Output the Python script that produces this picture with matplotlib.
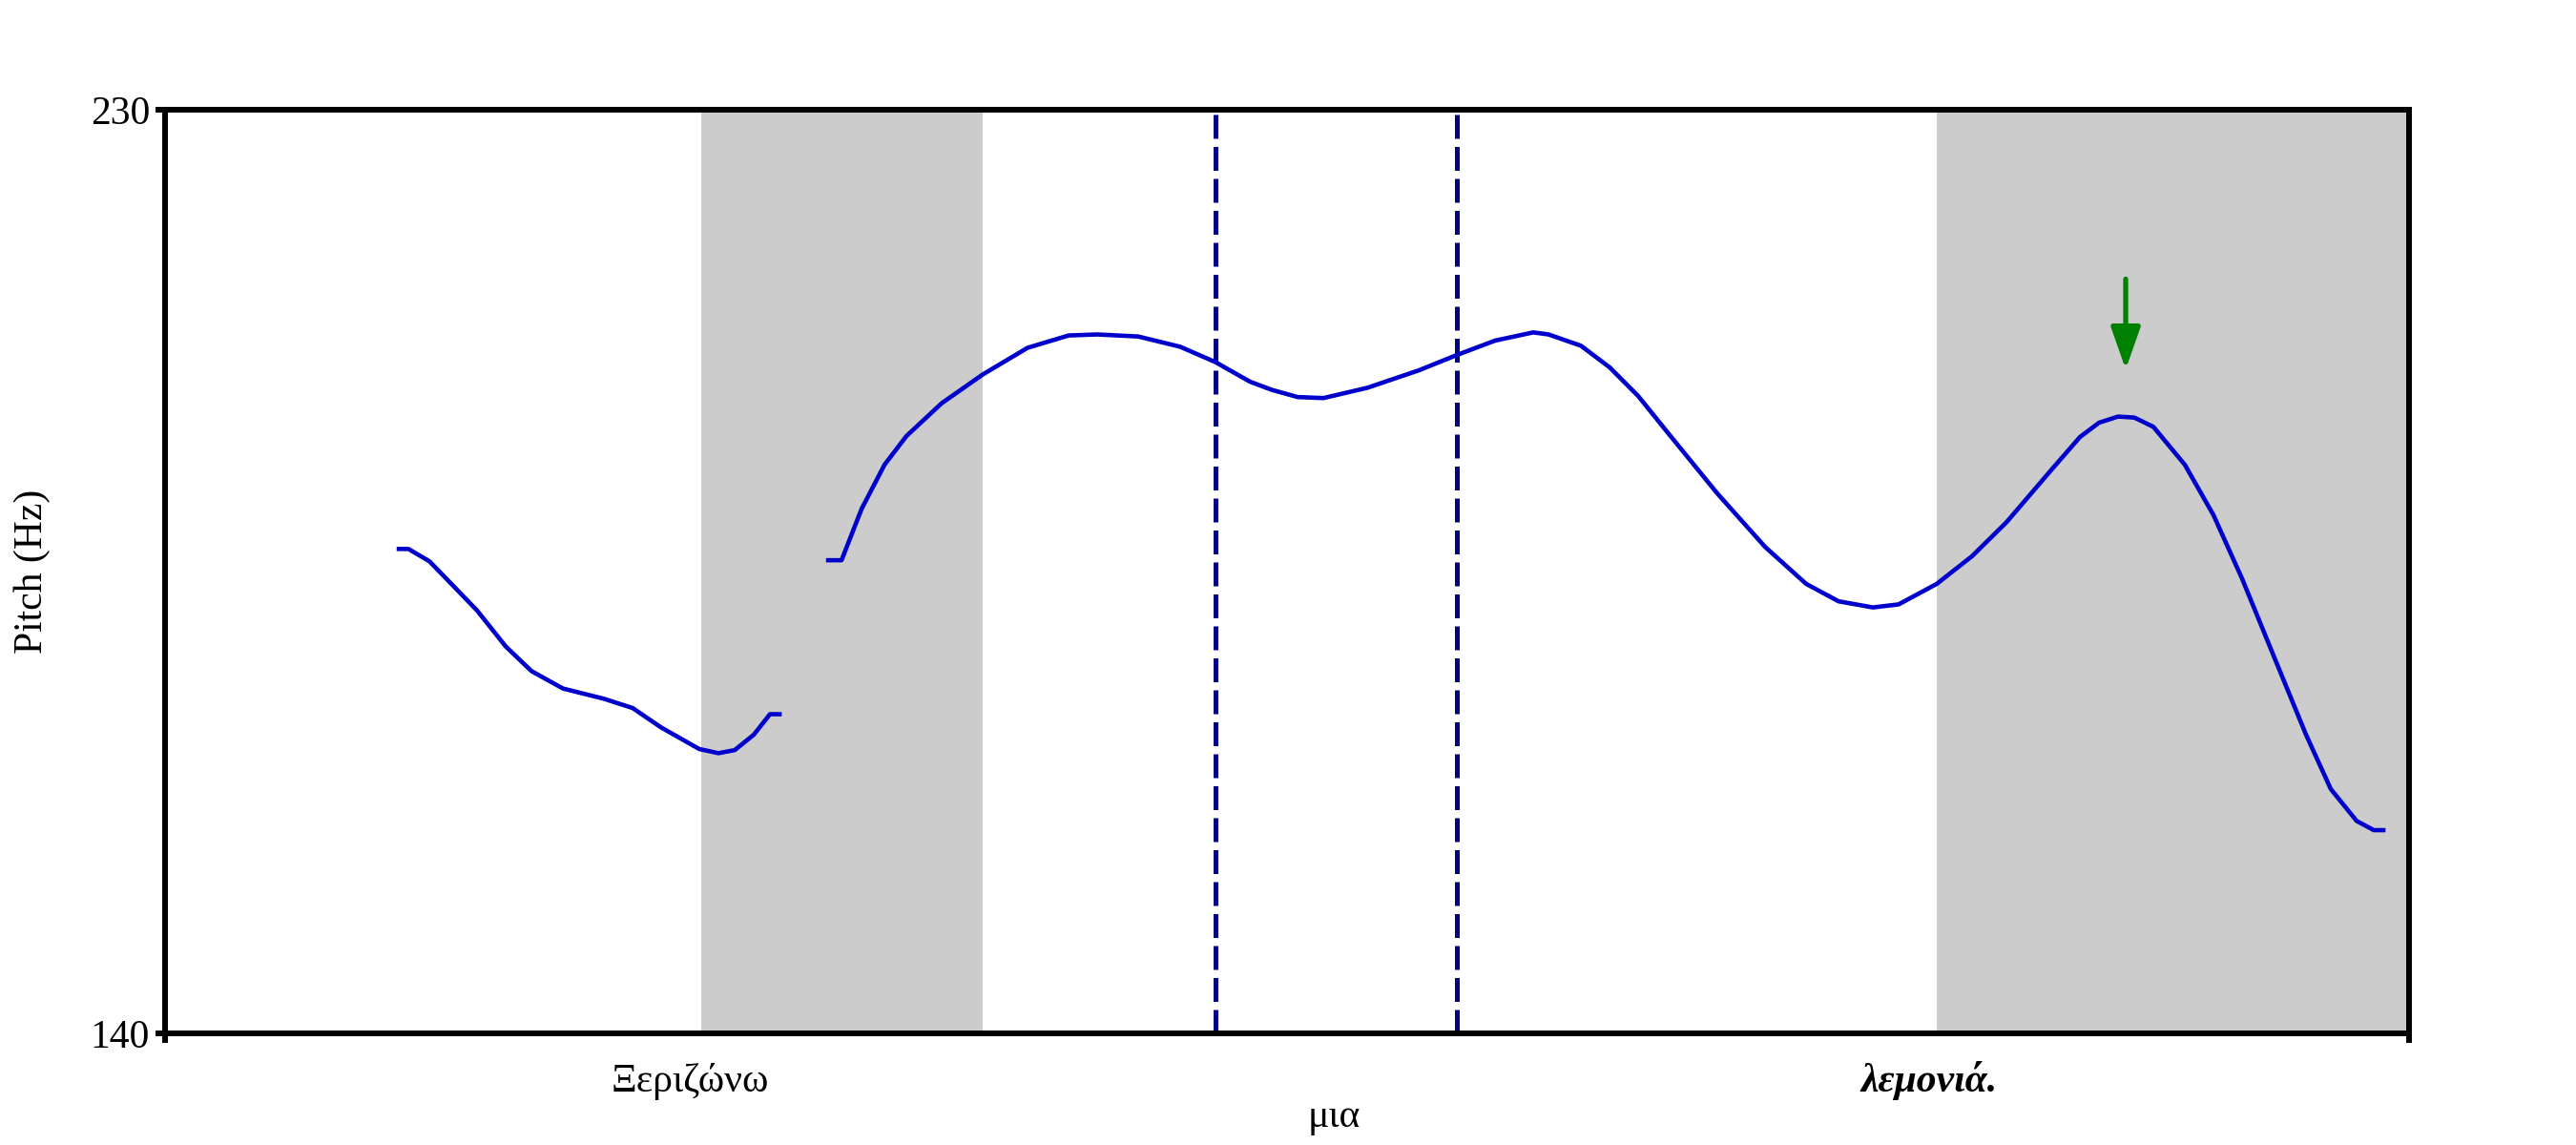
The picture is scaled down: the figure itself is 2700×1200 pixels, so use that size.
import matplotlib.pyplot as plt
import matplotlib.transforms as mtransforms

plt.rcParams['font.family'] = ['Liberation Serif', 'DejaVu Serif']

# time (s) and pitch (Hz)
t1 = [0.245, 0.255, 0.277, 0.300, 0.327, 0.357, 0.384, 0.417, 0.460, 0.490,
      0.520, 0.560, 0.580, 0.597, 0.617, 0.634, 0.644]
f1 = [187.2, 187.2, 186.0, 183.8, 181.2, 177.7, 175.3, 173.6, 172.6, 171.7,
      169.8, 167.7, 167.3, 167.6, 169.1, 171.1, 171.1]

t2 = [0.695, 0.709, 0.730, 0.754, 0.777, 0.814, 0.857, 0.904, 0.947, 0.977,
      1.020, 1.064, 1.101, 1.137, 1.160, 1.187, 1.214, 1.260, 1.314, 1.354,
      1.394, 1.434, 1.450, 1.484, 1.514, 1.544, 1.577, 1.627, 1.677, 1.720,
      1.754, 1.790, 1.817, 1.857, 1.894, 1.930, 1.977, 2.007, 2.027, 2.047,
      2.064, 2.084, 2.117, 2.147, 2.177, 2.210, 2.244, 2.270, 2.297, 2.315,
      2.325]
f2 = [186.1, 186.1, 191.1, 195.4, 198.2, 201.4, 204.2, 206.8, 208.0, 208.1,
      207.9, 206.9, 205.4, 203.5, 202.7, 202.0, 201.9, 202.9, 204.6, 206.1,
      207.5, 208.3, 208.1, 207.0, 204.9, 202.1, 198.3, 192.6, 187.4, 183.8,
      182.1, 181.5, 181.8, 183.8, 186.5, 189.8, 194.9, 198.1, 199.5, 200.1,
      200.0, 199.1, 195.4, 190.5, 184.3, 176.8, 169.1, 163.8, 160.7, 159.8,
      159.8]

t_end = 2.352
y_min, y_max = 140, 230

bands = [(0.562, 0.857), (1.857, 2.352)]
boundaries = [1.101, 1.354]

words = ['Ξεριζώνω', 'μια', 'λεμονιά.']
word_t = [0.550, 1.225, 1.849]

arrow_t = 2.055
arrow_from, arrow_to = 213.5, 204.7

fig = plt.figure(figsize=(27, 12), dpi=100)
ax = fig.add_axes([0.0641, 0.0975, 0.8711, 0.8067])

for a, b in bands:
    ax.axvspan(a, b, color='#cccccc', lw=0, zorder=0)

for b in boundaries:
    ln = ax.axvline(b, color='#000080', lw=3.6, zorder=2)
    ln.set_dashes([5, 1.7])

ax.plot(t1, f1, color='#0000cc', lw=3.3, zorder=3, solid_joinstyle='round')
ax.plot(t2, f2, color='#0000cc', lw=3.3, zorder=3, solid_joinstyle='round')

ax.annotate('', xy=(arrow_t, arrow_to), xytext=(arrow_t, arrow_from),
            arrowprops=dict(arrowstyle='-|>,head_length=2.7,head_width=0.95',
                            color='#008000', lw=3.8, shrinkA=0, shrinkB=0),
            zorder=4)

ax.set_xlim(0, t_end)
ax.set_ylim(y_min, y_max)
ax.set_xticks([0, t_end])
ax.set_xticklabels(['', ''])
ax.set_yticks([y_min, y_max])
ax.set_yticklabels([str(y_min), str(y_max)], fontsize=30)
ax.tick_params(length=7.5, width=4.3, pad=4, direction='out')
for s in ax.spines.values():
    s.set_linewidth(4.3)
    s.set_capstyle('projecting')

ax.set_ylabel('Pitch (Hz)', fontsize=30, labelpad=30)

trans = mtransforms.blended_transform_factory(ax.transData, fig.transFigure)
ax.text(word_t[0], 0.047, words[0], transform=trans, ha='center', va='baseline',
        fontsize=30)
ax.text(word_t[2], 0.047, words[2], transform=trans, ha='center', va='baseline',
        fontsize=30, style='italic', weight='bold')
ax.text(word_t[1], 0.016, words[1], transform=trans, ha='center', va='baseline',
        fontsize=30)

fig.savefig('out.png', dpi=100)
